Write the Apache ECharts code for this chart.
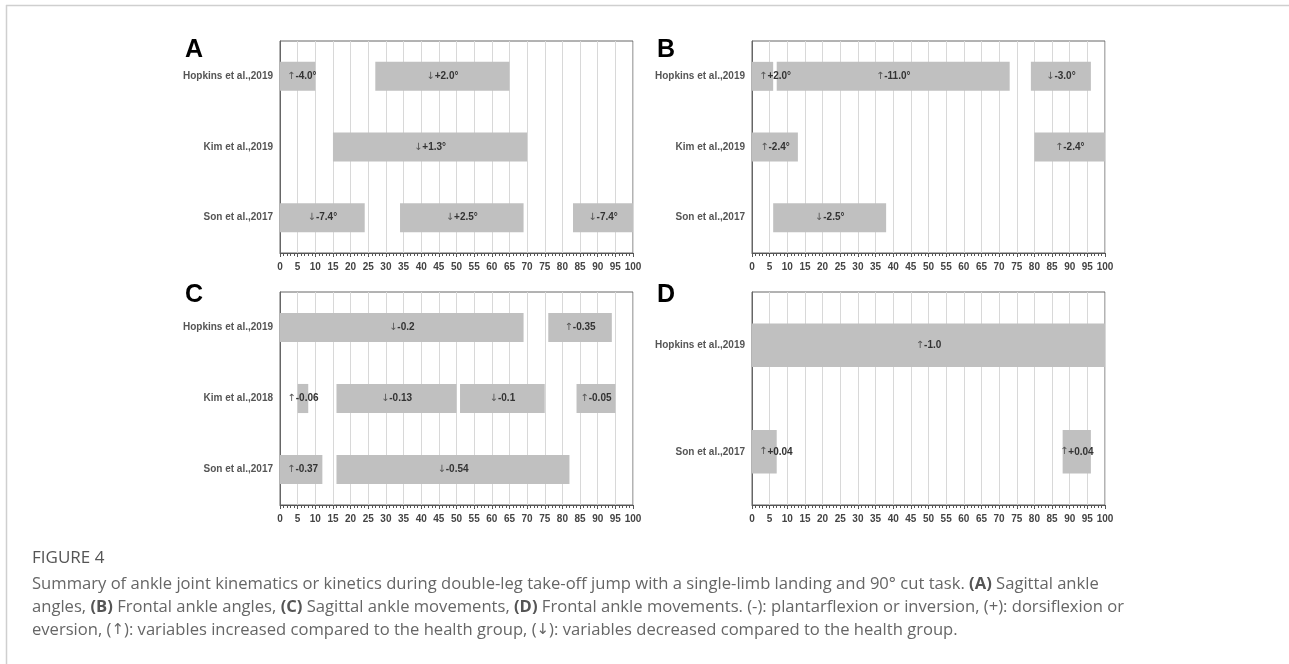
<!DOCTYPE html>
<html><head><meta charset="utf-8">
<script src="https://cdn.jsdelivr.net/npm/echarts@6/dist/echarts.min.js"></script>
<style>html,body{margin:0;padding:0;background:#fff}#c{width:1289px;height:664px}</style>
</head><body><div id="c"></div>
<script>
// ---------- data ----------
const xMin = 0, xMax = 100, xStep = 5;

const catsA = ['Hopkins et al.,2019', 'Kim et al.,2019', 'Son et al.,2017'];
const rowA   = [0, 0, 1, 2, 2, 2];
const startA = [0, 27, 15, 0, 34, 83];
const endA   = [10, 65, 70, 24, 69, 100];
const labA   = ['↑-4.0°', '↓+2.0°', '↓+1.3°', '↓-7.4°', '↓+2.5°', '↓-7.4°'];

const catsB = ['Hopkins et al.,2019', 'Kim et al.,2019', 'Son et al.,2017'];
const rowB   = [0, 0, 0, 1, 1, 2];
const startB = [0, 7, 79, 0, 80, 6];
const endB   = [6, 73, 96, 13, 100, 38];
const labB   = ['↑+2.0°', '↑-11.0°', '↓-3.0°', '↑-2.4°', '↑-2.4°', '↓-2.5°'];

const catsC = ['Hopkins et al.,2019', 'Kim et al.,2018', 'Son et al.,2017'];
const rowC   = [0, 0, 1, 1, 1, 1, 2, 2];
const startC = [0, 76, 5, 16, 51, 84, 0, 16];
const endC   = [69, 94, 8, 50, 75, 95, 12, 82];
const labC   = ['↓-0.2', '↑-0.35', '↑-0.06', '↓-0.13', '↓-0.1', '↑-0.05', '↑-0.37', '↓-0.54'];

const catsD = ['Hopkins et al.,2019', 'Son et al.,2017'];
const rowD   = [0, 1, 1];
const startD = [0, 0, 88];
const endD   = [100, 7, 96];
const labD   = ['↑-1.0', '↑+0.04', '↑+0.04'];

const panelLetters = ['A', 'B', 'C', 'D'];

const captionTitle = 'FIGURE 4';
const captionLines = [
  'Summary of ankle joint kinematics or kinetics during double-leg take-off jump with a single-limb landing and 90° cut task. {b|(A)} Sagittal ankle',
  'angles, {b|(B)} Frontal ankle angles, {b|(C)} Sagittal ankle movements, {b|(D)} Frontal ankle movements. (-): plantarflexion or inversion, (+): dorsiflexion or',
  'eversion, ({ar|↑}): variables increased compared to the health group, ({ar|↓}): variables decreased compared to the health group.'
];

// ---------- layout ----------
const panels = [
  {cats: catsA, row: rowA, s: startA, e: endA, lab: labA},
  {cats: catsB, row: rowB, s: startB, e: endB, lab: labB},
  {cats: catsC, row: rowC, s: startC, e: endC, lab: labC},
  {cats: catsD, row: rowD, s: startD, e: endD, lab: labD}
];
const gridPos = [
  {left: 280, top: 41, width: 353, height: 212},
  {left: 752, top: 41, width: 353, height: 212},
  {left: 280, top: 292, width: 353, height: 213},
  {left: 752, top: 292, width: 353, height: 213}
];
const letterPos = [[185, 50], [657, 50], [185, 295], [657, 295]];

const FONT = '"Liberation Sans", Arial, sans-serif';
const labelFont = 'bold 10px ' + FONT;
const arrowFont = '10px "DejaVu Sans", sans-serif';
const mc = document.createElement('canvas').getContext('2d');

function textWidth(txt) {
  mc.font = arrowFont;
  const a = mc.measureText(txt.charAt(0)).width;
  mc.font = labelFont;
  return a + mc.measureText(txt.slice(1)).width;
}

function makeRender(lab) {
  return function (params, api) {
    const r = api.value(0), s = api.value(1), e = api.value(2);
    const p0 = api.coord([s, r]);
    const p1 = api.coord([e, r]);
    const h = api.size([0, 1])[1] * 0.41;
    const cs = params.coordSys;
    const txt = lab[params.dataIndex];
    const w = textWidth(txt);
    let cx = (p0[0] + p1[0]) / 2;
    cx = Math.max(cx, cs.x + 7 + w / 2);
    return {
      type: 'group',
      children: [
        {type: 'rect', z2: 1, shape: {x: p0[0], y: p0[1] - h / 2, width: p1[0] - p0[0], height: h},
         style: {fill: '#c0c0c0'}},
        {type: 'text', z2: 50, x: cx, y: p0[1],
         style: {text: '{ar|' + txt.charAt(0) + '}{t|' + txt.slice(1) + '}', align: 'center', verticalAlign: 'middle',
           rich: {ar: {font: arrowFont, fill: '#555'}, t: {font: labelFont, fill: '#333'}}}}
      ]
    };
  };
}

const grid = [], xAxis = [], yAxis = [], series = [];
panels.forEach((p, i) => {
  grid.push(Object.assign({show: true, borderColor: '#666', borderWidth: 1, backgroundColor: 'transparent'}, gridPos[i]));
  xAxis.push({
    type: 'value', gridIndex: i, min: xMin, max: xMax, interval: xStep,
    axisLine: {show: true, lineStyle: {color: '#555', width: 1}},
    axisTick: {show: true, length: 4, lineStyle: {color: '#555'}},
    minorTick: {show: true, splitNumber: 5, length: 3, lineStyle: {color: '#555'}},
    splitLine: {show: true, lineStyle: {color: '#d8d8d8', width: 1}},
    axisLabel: {color: '#444', fontWeight: 'bold', fontSize: 10, fontFamily: FONT, margin: 9, showMinLabel: true, showMaxLabel: true, hideOverlap: false}
  });
  yAxis.push({
    type: 'category', gridIndex: i, data: p.cats, inverse: true,
    axisLine: {show: true, lineStyle: {color: '#666'}},
    axisTick: {show: false},
    splitLine: {show: false},
    axisLabel: {color: '#555', fontWeight: 'bold', fontSize: 10, fontFamily: FONT, margin: 7}
  });
  series.push({
    type: 'custom', xAxisIndex: i, yAxisIndex: i,
    renderItem: makeRender(p.lab),
    encode: {x: [1, 2], y: 0},
    data: p.row.map((r, k) => [r, p.s[k], p.e[k]]),
    silent: true, animation: false
  });
});

const graphic = [
  {type: 'line', shape: {x1: 6, y1: 5.5, x2: 1289, y2: 5.5}, style: {stroke: '#cfcfcf', lineWidth: 1.5}, silent: true},
  {type: 'line', shape: {x1: 6.5, y1: 5, x2: 6.5, y2: 664}, style: {stroke: '#cfcfcf', lineWidth: 1.5}, silent: true}
];
panelLetters.forEach((L, i) => {
  graphic.push({type: 'text', x: letterPos[i][0], y: letterPos[i][1],
    style: {text: L, font: 'bold 25px ' + FONT, fill: '#000', align: 'left', verticalAlign: 'middle'}});
});
const CAP = '"Open Sans", "Noto Sans", sans-serif';
graphic.push({type: 'text', x: 32, y: 558,
  style: {text: captionTitle, font: '17px ' + CAP, fill: '#555', align: 'left', verticalAlign: 'middle'}});
const capY = [584, 607, 630];
captionLines.forEach((t, i) => {
  graphic.push({type: 'text', x: 32, y: capY[i],
    style: {text: t, font: '16.6px ' + CAP, fill: '#666', align: 'left', verticalAlign: 'middle',
      rich: {b: {font: 'bold 16.6px ' + CAP, fill: '#555'},
             ar: {font: '15px "DejaVu Sans", sans-serif', fill: '#666'}}}});
});

const chart = echarts.init(document.getElementById('c'), null, {renderer: 'canvas'});
chart.setOption({animation: false, backgroundColor: '#fff', grid, xAxis, yAxis, series, graphic});
</script>
</body></html>
